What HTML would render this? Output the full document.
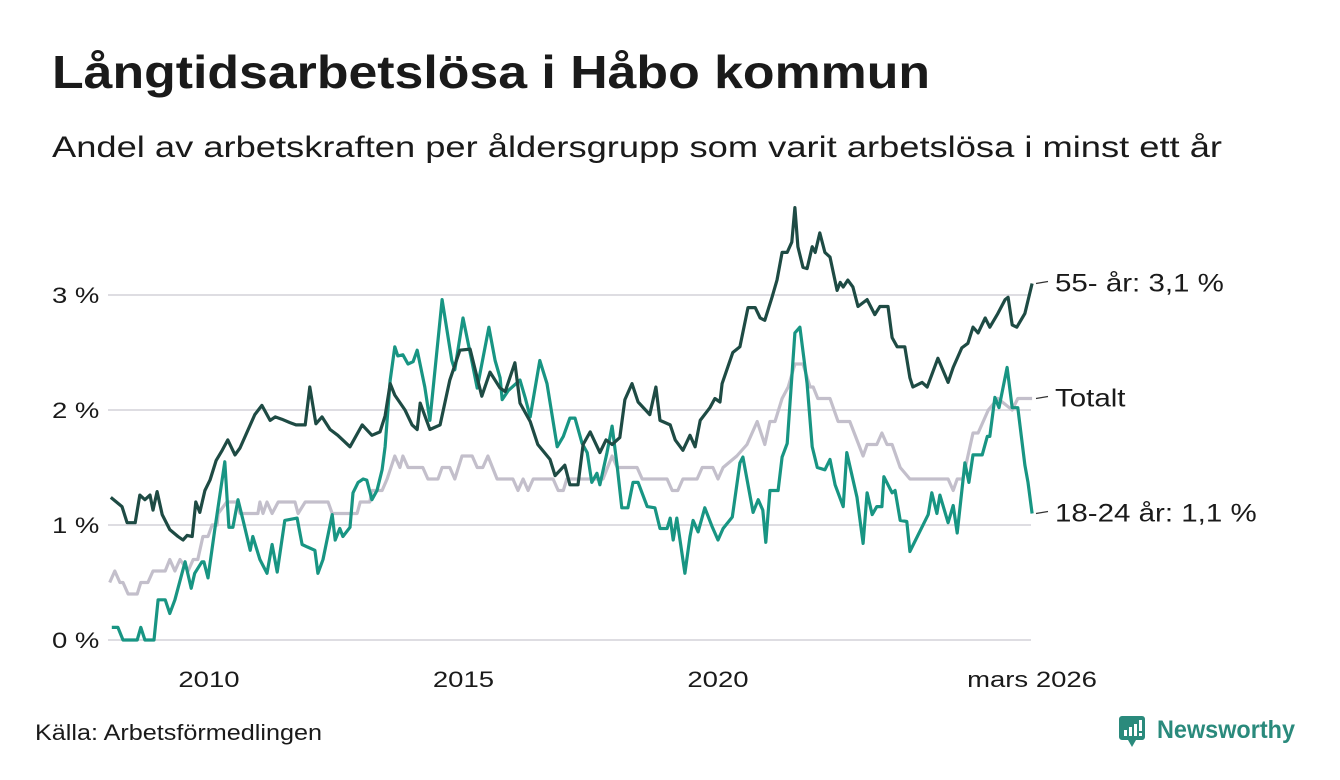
<!DOCTYPE html>
<html><head><meta charset="utf-8"><style>
html,body{margin:0;padding:0;background:#fff;}
svg{display:block;font-family:"Liberation Sans",sans-serif;}
</style></head><body>
<svg id="chart" width="1340" height="780" viewBox="0 0 1340 780" xmlns="http://www.w3.org/2000/svg">
<text x="52" y="88" font-size="46" font-weight="bold" fill="#1a1a1a" textLength="878" lengthAdjust="spacingAndGlyphs">Långtidsarbetslösa i Håbo kommun</text>
<text x="52" y="157" font-size="30" fill="#1a1a1a" textLength="1170" lengthAdjust="spacingAndGlyphs">Andel av arbetskraften per åldersgrupp som varit arbetslösa i minst ett år</text>
<g id="grid"></g>
<g id="series"></g>
<g id="labels"></g>
<text x="35" y="740" font-size="22" fill="#1a1a1a" textLength="287" lengthAdjust="spacingAndGlyphs">Källa: Arbetsförmedlingen</text>
<g>
<rect x="1119" y="716" width="26" height="24" rx="3" fill="#2a8a7c"/>
<polygon points="1128,740 1132,747 1136,740" fill="#2a8a7c"/>
<rect x="1124" y="730" width="3" height="6" fill="#fff"/><rect x="1129" y="727" width="3" height="9" fill="#fff"/><rect x="1134" y="724" width="3" height="12" fill="#fff"/><rect x="1139" y="720" width="3" height="11" fill="#fff"/><rect x="1139" y="733" width="3" height="3" fill="#fff"/>
<text x="1157" y="738" font-size="25" font-weight="bold" fill="#2a8a7c" textLength="138" lengthAdjust="spacingAndGlyphs">Newsworthy</text>
</g>
</svg>
<script>
const yTicks = [0, 1, 2, 3];
const yTickLabels = ["0 %", "1 %", "2 %", "3 %"];
const xTicks = [2010, 2015, 2020, 2026.17];
const xTickLabels = ["2010", "2015", "2020", "mars 2026"];

const darkDates = [2008.07,2008.29,2008.39,2008.55,2008.64,2008.74,2008.84,2008.90,2008.98,2009.08,2009.23,2009.39,2009.49,2009.57,2009.67,2009.74,2009.82,2009.92,2010.02,2010.14,2010.26,2010.37,2010.51,2010.61,2010.77,2010.90,2011.04,2011.20,2011.30,2011.43,2011.59,2011.71,2011.89,2011.98,2012.10,2012.22,2012.38,2012.53,2012.77,2013.01,2013.20,2013.36,2013.46,2013.56,2013.65,2013.85,2013.99,2014.09,2014.15,2014.34,2014.54,2014.73,2014.93,2015.13,2015.23,2015.36,2015.52,2015.72,2015.82,2016.01,2016.11,2016.31,2016.46,2016.70,2016.80,2016.99,2017.09,2017.25,2017.35,2017.49,2017.68,2017.80,2017.92,2018.07,2018.17,2018.31,2018.43,2018.66,2018.78,2018.86,2019.06,2019.16,2019.31,2019.45,2019.55,2019.65,2019.84,2019.94,2020.04,2020.08,2020.29,2020.43,2020.59,2020.73,2020.83,2020.92,2021.06,2021.16,2021.26,2021.36,2021.45,2021.51,2021.57,2021.67,2021.75,2021.85,2021.91,2022.00,2022.10,2022.20,2022.34,2022.40,2022.46,2022.55,2022.65,2022.75,2022.93,2023.08,2023.18,2023.34,2023.42,2023.52,2023.67,2023.77,2023.83,2024.01,2024.11,2024.32,2024.52,2024.62,2024.79,2024.91,2025.01,2025.11,2025.25,2025.34,2025.50,2025.64,2025.70,2025.78,2025.87,2026.03,2026.17];
const darkValues = [1.24,1.16,1.02,1.02,1.26,1.22,1.26,1.13,1.29,1.09,0.96,0.90,0.87,0.91,0.90,1.20,1.11,1.30,1.39,1.56,1.65,1.74,1.61,1.67,1.83,1.96,2.04,1.91,1.94,1.92,1.89,1.87,1.87,2.20,1.88,1.94,1.83,1.78,1.68,1.87,1.78,1.81,1.95,2.23,2.13,2.00,1.87,1.83,2.06,1.83,1.87,2.26,2.52,2.53,2.35,2.12,2.33,2.19,2.16,2.41,2.06,1.90,1.70,1.57,1.43,1.52,1.35,1.35,1.70,1.81,1.63,1.74,1.70,1.76,2.09,2.23,2.07,1.96,2.20,1.91,1.87,1.74,1.65,1.78,1.68,1.91,2.02,2.10,2.07,2.23,2.50,2.55,2.89,2.89,2.80,2.78,2.98,3.13,3.37,3.37,3.46,3.76,3.42,3.24,3.23,3.42,3.37,3.54,3.37,3.33,3.04,3.11,3.07,3.13,3.07,2.90,2.96,2.83,2.90,2.90,2.63,2.55,2.55,2.28,2.20,2.24,2.20,2.45,2.24,2.37,2.54,2.58,2.72,2.67,2.80,2.72,2.84,2.96,2.98,2.74,2.72,2.84,3.10];

const youthDates = [2008.09,2008.21,2008.31,2008.59,2008.66,2008.74,2008.92,2009.00,2009.14,2009.23,2009.33,2009.47,2009.53,2009.65,2009.72,2009.86,2009.90,2009.98,2010.12,2010.31,2010.39,2010.47,2010.57,2010.67,2010.81,2010.86,2011.00,2011.14,2011.24,2011.34,2011.49,2011.73,2011.83,2011.93,2012.08,2012.14,2012.24,2012.42,2012.48,2012.57,2012.63,2012.77,2012.83,2012.93,2013.03,2013.10,2013.20,2013.30,2013.40,2013.46,2013.56,2013.65,2013.71,2013.81,2013.91,2014.01,2014.09,2014.24,2014.34,2014.58,2014.77,2014.83,2014.99,2015.17,2015.27,2015.50,2015.62,2015.72,2015.76,2015.88,2016.11,2016.21,2016.31,2016.50,2016.64,2016.84,2016.96,2017.09,2017.19,2017.33,2017.43,2017.52,2017.62,2017.68,2017.82,2017.92,2018.02,2018.11,2018.23,2018.33,2018.43,2018.61,2018.76,2018.86,2019.00,2019.06,2019.12,2019.19,2019.35,2019.45,2019.51,2019.61,2019.74,2019.88,2020.00,2020.10,2020.28,2020.43,2020.49,2020.69,2020.79,2020.88,2020.94,2021.02,2021.18,2021.26,2021.36,2021.51,2021.61,2021.75,2021.85,2021.95,2022.10,2022.20,2022.30,2022.46,2022.53,2022.73,2022.85,2022.93,2023.03,2023.12,2023.22,2023.26,2023.42,2023.48,2023.58,2023.71,2023.77,2024.13,2024.20,2024.30,2024.36,2024.52,2024.62,2024.70,2024.85,2024.93,2025.01,2025.19,2025.29,2025.34,2025.44,2025.52,2025.68,2025.78,2025.89,2026.03,2026.09,2026.17];
const youthValues = [0.11,0.11,0,0,0.11,0,0,0.35,0.35,0.23,0.35,0.58,0.68,0.45,0.58,0.68,0.68,0.54,0.98,1.55,0.98,0.98,1.22,1.04,0.78,0.90,0.70,0.58,0.83,0.59,1.04,1.06,0.83,0.81,0.78,0.58,0.70,1.09,0.87,0.97,0.90,0.98,1.28,1.37,1.40,1.39,1.22,1.30,1.48,1.68,2.26,2.55,2.47,2.48,2.40,2.42,2.52,2.20,1.91,2.96,2.43,2.35,2.80,2.41,2.19,2.72,2.43,2.28,2.09,2.17,2.26,2.11,1.94,2.43,2.23,1.68,1.77,1.93,1.93,1.71,1.63,1.37,1.45,1.35,1.63,1.86,1.51,1.15,1.15,1.37,1.37,1.16,1.15,0.97,0.97,1.06,0.87,1.06,0.58,0.90,1.04,0.94,1.15,0.99,0.87,0.97,1.07,1.54,1.59,1.11,1.22,1.13,0.85,1.30,1.30,1.59,1.71,2.67,2.72,2.23,1.68,1.50,1.48,1.57,1.35,1.16,1.63,1.24,0.84,1.28,1.09,1.16,1.16,1.42,1.28,1.30,1.04,1.03,0.77,1.09,1.28,1.10,1.26,1.02,1.17,0.93,1.54,1.37,1.61,1.61,1.77,1.77,2.11,2.02,2.37,2.02,2.02,1.52,1.37,1.10];

const totalDates = [2008.05,2008.15,2008.25,2008.31,2008.41,2008.59,2008.66,2008.80,2008.90,2009.14,2009.23,2009.33,2009.43,2009.59,2009.69,2009.78,2009.88,2009.98,2010.06,2010.16,2010.18,2010.35,2010.55,2010.61,2010.96,2011.00,2011.06,2011.14,2011.24,2011.36,2011.69,2011.75,2011.89,2012.34,2012.42,2012.91,2012.97,2013.16,2013.20,2013.40,2013.50,2013.65,2013.75,2013.81,2013.91,2014.20,2014.30,2014.50,2014.58,2014.73,2014.83,2014.97,2015.17,2015.27,2015.38,2015.48,2015.66,2015.97,2016.07,2016.17,2016.27,2016.37,2016.76,2016.86,2016.96,2017.03,2017.74,2017.92,2018.02,2018.41,2018.51,2019.00,2019.10,2019.21,2019.31,2019.59,2019.69,2019.90,2020.00,2020.10,2020.37,2020.57,2020.77,2020.92,2021.02,2021.12,2021.26,2021.38,2021.51,2021.67,2021.81,2021.87,2021.96,2022.20,2022.36,2022.59,2022.85,2022.93,2023.12,2023.22,2023.32,2023.42,2023.58,2023.77,2024.52,2024.62,2024.70,2024.81,2025.01,2025.11,2025.21,2025.31,2025.50,2025.78,2025.89,2026.17];
const totalValues = [0.5,0.6,0.5,0.5,0.4,0.4,0.5,0.5,0.6,0.6,0.7,0.6,0.7,0.6,0.7,0.7,0.9,0.9,1.0,1.0,1.1,1.2,1.2,1.1,1.1,1.2,1.1,1.2,1.1,1.2,1.2,1.1,1.2,1.2,1.1,1.1,1.2,1.2,1.3,1.3,1.4,1.6,1.5,1.6,1.5,1.5,1.4,1.4,1.5,1.5,1.4,1.6,1.6,1.5,1.5,1.6,1.4,1.4,1.3,1.4,1.3,1.4,1.4,1.3,1.3,1.4,1.4,1.6,1.5,1.5,1.4,1.4,1.3,1.3,1.4,1.4,1.5,1.5,1.4,1.5,1.6,1.7,1.9,1.7,1.9,1.9,2.1,2.2,2.4,2.4,2.2,2.2,2.1,2.1,1.9,1.9,1.6,1.7,1.7,1.8,1.7,1.7,1.5,1.4,1.4,1.3,1.4,1.4,1.8,1.8,1.9,2.0,2.1,2.0,2.1,2.1];

const seriesNames = ["Totalt", "18-24 år: 1,1 %", "55- år: 3,1 %"];

const NS = "http://www.w3.org/2000/svg";
const x = d => 209 + (d - 2010) * 50.9;
const y = v => 640 - v * 115;
function widen(el, f) {
  const w = el.getComputedTextLength();
  el.setAttribute('textLength', (w * f).toFixed(1));
  el.setAttribute('lengthAdjust', 'spacingAndGlyphs');
}

const grid = document.getElementById('grid');
yTicks.forEach((t, i) => {
  const l = document.createElementNS(NS, 'line');
  
  
  l.setAttribute('x1', 108); l.setAttribute('x2', 1031);
  l.setAttribute('y1', y(t)); l.setAttribute('y2', y(t));
  l.setAttribute('stroke', '#dedde2'); l.setAttribute('stroke-width', 2);
  grid.appendChild(l);
  const tx = document.createElementNS(NS, 'text');
  
  
  tx.setAttribute('x', 52); tx.setAttribute('y', y(t) + 8);
  tx.setAttribute('font-size', 22); tx.setAttribute('fill', '#1a1a1a');
  tx.textContent = yTickLabels[i];
  grid.appendChild(tx);
  widen(tx, 1.25);
});
xTicks.forEach((t, i) => {
  const tx = document.createElementNS(NS, 'text');
  
  
  tx.setAttribute('x', x(t)); tx.setAttribute('y', 687);
  tx.setAttribute('font-size', 22); tx.setAttribute('fill', '#1a1a1a');
  tx.setAttribute('text-anchor', 'middle');
  tx.textContent = xTickLabels[i];
  grid.appendChild(tx);
  widen(tx, 1.25);
});

const sg = document.getElementById('series');
function drawLine(dates, vals, color, name) {
  const p = document.createElementNS(NS, 'polyline');
  
  
  p.setAttribute('points', dates.map((d, i) => x(d).toFixed(1) + ',' + y(vals[i]).toFixed(1)).join(' '));
  p.setAttribute('fill', 'none'); p.setAttribute('stroke', color);
  p.setAttribute('stroke-width', 3.2); p.setAttribute('stroke-linejoin', 'round');
  sg.appendChild(p);
}
drawLine(totalDates, totalValues, '#c3bfcb', 'line-totalt');
drawLine(youthDates, youthValues, '#189583', 'line-18-24');
drawLine(darkDates, darkValues, '#1e4b44', 'line-55-plus');

const lg = document.getElementById('labels');
const ends = [totalValues[totalValues.length - 1], youthValues[youthValues.length - 1], darkValues[darkValues.length - 1]];
ends.forEach((v, i) => {
  const ly = y(v);
  const l = document.createElementNS(NS, 'line');
  
  
  l.setAttribute('x1', 1036); l.setAttribute('x2', 1048);
  l.setAttribute('y1', ly); l.setAttribute('y2', ly - 2);
  l.setAttribute('stroke', '#333'); l.setAttribute('stroke-width', 1.2);
  lg.appendChild(l);
  const tx = document.createElementNS(NS, 'text');
  
  
  tx.setAttribute('x', 1055); tx.setAttribute('y', ly + 8);
  tx.setAttribute('font-size', 25); tx.setAttribute('fill', '#1a1a1a');
  tx.textContent = seriesNames[i];
  lg.appendChild(tx);
  widen(tx, 1.18);
});
</script>
</body></html>
